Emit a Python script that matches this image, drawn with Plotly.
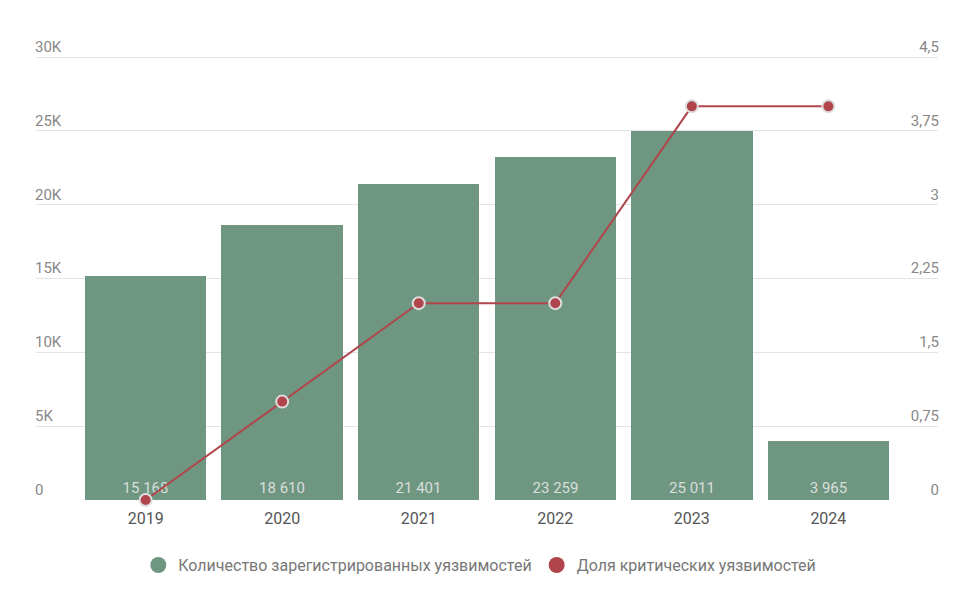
import plotly.graph_objects as go

years = ["2019", "2020", "2021", "2022", "2023", "2024"]
counts = [15168, 18610, 21401, 23259, 25011, 3965]
critical_share = [0, 1, 2, 2, 4, 4]
count_labels = ["15 168", "18 610", "21 401", "23 259", "25 011", "3 965"]
left_ticks = [0, 5000, 10000, 15000, 20000, 25000, 30000]
left_ticktext = ["0", "5K", "10K", "15K", "20K", "25K", "30K"]
right_ticks = [0, 0.75, 1.5, 2.25, 3, 3.75, 4.5]
right_ticktext = ["0", "0,75", "1,5", "2,25", "3", "3,75", "4,5"]
series_names = ["Количество зарегистрированных уязвимостей", "Доля критических уязвимостей"]

BAR = "#6f9681"
LINE = "#b0464b"
x = list(range(len(years)))

fig = go.Figure()
fig.add_trace(go.Bar(
    x=x, y=counts, width=0.89, marker=dict(color=BAR, line=dict(width=0)),
    text=count_labels, textposition="inside", insidetextanchor="start",
    textangle=0, textfont=dict(color="#d9dfdb", size=15, family="Roboto"),
    showlegend=False, hoverinfo="skip", yaxis="y"))
fig.add_trace(go.Scatter(
    x=x, y=critical_share, mode="lines+markers", yaxis="y2",
    line=dict(color=LINE, width=2),
    marker=dict(color=LINE, size=12, line=dict(color="#dedede", width=2)),
    showlegend=False, cliponaxis=False))
# legend entries
fig.add_trace(go.Scatter(x=[None], y=[None], mode="markers", name=series_names[0],
                         marker=dict(color=BAR, size=20, symbol="circle")))
fig.add_trace(go.Scatter(x=[None], y=[None], mode="markers", name=series_names[1],
                         marker=dict(color=LINE, size=20, symbol="circle")))

fig.update_layout(
    width=974, height=602,
    margin=dict(l=36, r=36, t=35, b=102),
    paper_bgcolor="white", plot_bgcolor="white",
    font=dict(family="Roboto", size=15, color="#888888"),
    bargap=0,
    xaxis=dict(range=[-0.803, 5.803], tickvals=x, ticktext=years,
               tickfont=dict(color="#555555", size=16), showgrid=False,
               zeroline=False, showline=False, ticks="outside", ticklen=4,
               tickcolor="rgba(0,0,0,0)", fixedrange=True),
    yaxis=dict(range=[0, 31500], tickvals=left_ticks, ticktext=left_ticktext,
               ticklabelposition="inside top", ticklabelstandoff=-4,
               gridcolor="#e4e4e4", gridwidth=1,
               zeroline=False, showline=False, ticks="",
               tickfont=dict(color="#888888", size=15)),
    yaxis2=dict(range=[0, 4.725], tickvals=right_ticks, ticktext=right_ticktext,
                overlaying="y", side="right", ticklabelposition="inside top",
                ticklabelstandoff=-4,
                showgrid=False, zeroline=False, showline=False, ticks="",
                tickfont=dict(color="#888888", size=15)),
    legend=dict(orientation="h", x=0.492, xanchor="center", y=-0.14, yanchor="middle",
                font=dict(color="#777777", size=16), itemsizing="trace"),
)
fig.write_html("out.html")
